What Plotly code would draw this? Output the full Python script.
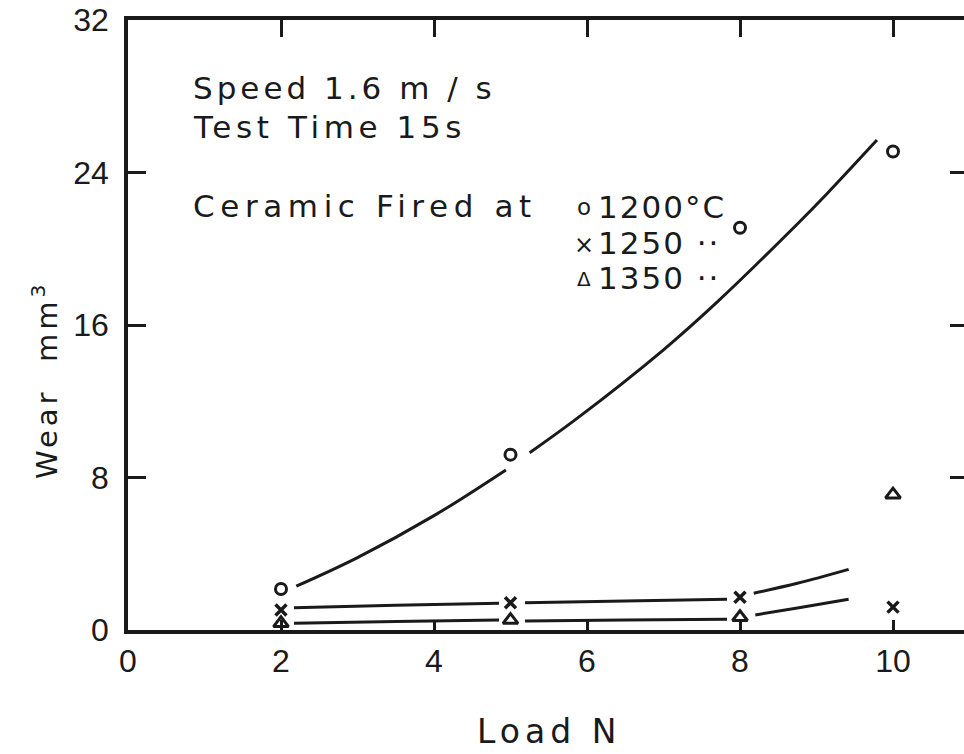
import plotly.graph_objects as go

# ---- data ----
load = [2, 5, 8, 10]
wear_1200 = [2.15, 9.2, 21.1, 25.1]
wear_1250 = [1.05, 1.43, 1.72, 1.2]
wear_1350 = [0.35, 0.52, 0.67, 7.1]

# hand-drawn fitted curves (None = break at a marker)
curve_1200_x = [2.2, 3.0, 4.0, 4.94, None, 5.25, 5.87, 7.0, 7.7, 8.75, 9.14, 9.79]
curve_1200_y = [2.3, 3.8, 6.0, 8.4, None, 9.3, 11.1, 14.7, 17.2, 21.3, 22.9, 25.7]
curve_1250_x = [2.17, 3.5, 4.85, None, 5.19, 6.5, 7.83, None, 8.18, 8.75, 9.42]
curve_1250_y = [1.17, 1.3, 1.4, None, 1.43, 1.52, 1.61, None, 1.93, 2.45, 3.18]
curve_1350_x = [2.17, 3.5, 4.85, None, 5.19, 6.5, 7.83, None, 8.2, 8.75, 9.42]
curve_1350_y = [0.35, 0.44, 0.52, None, 0.47, 0.52, 0.56, None, 0.79, 1.15, 1.61]

x_ticks = [0, 2, 4, 6, 8, 10]
y_ticks = [0, 8, 16, 24, 32]

INK = "#1a1a1a"
FONT = "DejaVu Sans"
TICKFONT = "Liberation Sans"

fig = go.Figure()

for cx, cy in [(curve_1200_x, curve_1200_y), (curve_1250_x, curve_1250_y), (curve_1350_x, curve_1350_y)]:
    fig.add_trace(go.Scatter(x=cx, y=cy, mode="lines", connectgaps=False,
                             line=dict(color=INK, width=3, shape="spline"),
                             hoverinfo="skip", showlegend=False))

fig.add_trace(go.Scatter(x=load, y=wear_1200, mode="markers", name="1200°C",
                         marker=dict(symbol="circle-open", size=11, color=INK, line=dict(width=3, color=INK))))
fig.add_trace(go.Scatter(x=load, y=wear_1250, mode="markers", name="1250",
                         marker=dict(symbol="x-thin", size=11, color=INK, line=dict(width=3.5, color=INK))))
fig.add_trace(go.Scatter(x=load, y=wear_1350, mode="markers", name="1350",
                         marker=dict(symbol="triangle-up-open", size=13, color=INK, line=dict(width=3, color=INK))))

# right-side inside ticks
fig.add_trace(go.Scatter(x=[None], y=[None], yaxis="y2", showlegend=False, hoverinfo="skip"))
# top-side inside ticks
fig.add_trace(go.Scatter(x=[None], y=[None], xaxis="x2", showlegend=False, hoverinfo="skip"))

W, H = 964, 754
L, R, T, B = 128, 0, 20, 124
pw, ph = W - L - R, H - T - B

def px(xpix):
    return (xpix - L) / pw

def py(ypix):
    return (H - B - ypix) / ph

fig.update_layout(
    width=W, height=H,
    margin=dict(l=L, r=R, t=T, b=B),
    paper_bgcolor="white", plot_bgcolor="white",
    showlegend=False,
    font=dict(family=FONT, color=INK),
    xaxis=dict(range=[0, pw / 76.5], tickvals=x_ticks, ticktext=[str(v) for v in x_ticks],
               ticks="inside", ticklen=10, tickwidth=3, tickcolor=INK,
               showline=True, linewidth=3.5, linecolor=INK, mirror=True,
               showgrid=False, zeroline=False,
               tickfont=dict(family=TICKFONT, size=32, color=INK), ticklabelstandoff=0),
    xaxis2=dict(overlaying="x", matches="x", side="top", tickvals=[2, 4, 6, 8, 10],
                ticks="inside", ticklen=17, tickwidth=3, tickcolor=INK,
                showticklabels=False, showline=False, showgrid=False, zeroline=False),
    yaxis=dict(range=[0, 32], tickvals=y_ticks, ticktext=[str(v) for v in y_ticks],
               ticks="inside", ticklen=18, tickwidth=3, tickcolor=INK,
               showline=True, linewidth=3.5, linecolor=INK, mirror=False,
               showgrid=False, zeroline=False,
               tickfont=dict(family=TICKFONT, size=32, color=INK), ticklabelstandoff=9),
    yaxis2=dict(overlaying="y", matches="y", side="right", tickvals=[8, 16, 24],
                ticks="inside", ticklen=14, tickwidth=3, tickcolor=INK,
                showticklabels=False, showline=False, showgrid=False, zeroline=False),
)

# (text, left x px, centre y px, font size, letter spacing px)
ann = [
    ("Speed 1.6 m / s", 191, 88, 31, 4),
    ("Test Time 15s", 191, 127, 31, 4.6),
    ("Ceramic Fired at", 191, 206, 31, 5.6),
    ("1200°C", 596, 207, 31, 2),
    ("1250 ··", 596, 243, 31, 2),
    ("1350 ··", 596, 278, 31, 2),
]
for text, x0, y0, size, ls in ann:
    fig.add_annotation(xref="paper", yref="paper", x=px(x0), y=py(y0),
                       xanchor="left", yanchor="middle", showarrow=False,
                       text=f"<span style='letter-spacing:{ls}px'>{text}</span>",
                       font=dict(family=FONT, size=size, color=INK))

# small legend symbols drawn as text
for sym, y0, size in [("o", 207, 23), ("×", 245, 24), ("Δ", 279, 20)]:
    fig.add_annotation(xref="paper", yref="paper", x=px(584), y=py(y0),
                       xanchor="center", yanchor="middle", showarrow=False,
                       text=sym, font=dict(family=FONT, size=size, color=INK))

fig.add_annotation(xref="paper", yref="paper", x=px(45), y=py(380), textangle=-90,
                   xanchor="center", yanchor="middle", showarrow=False,
                   text="<span style='letter-spacing:4px'>Wear  mm<sup>3</sup></span>",
                   font=dict(family=FONT, size=29, color=INK))
fig.add_annotation(xref="paper", yref="paper", x=px(549), y=py(731),
                   xanchor="center", yanchor="middle", showarrow=False,
                   text="<span style='letter-spacing:5px'>Load N</span>",
                   font=dict(family=FONT, size=33, color=INK))

fig.write_html("out.html",
               config={"displayModeBar": False},
               post_script="document.body.style.margin='0';document.body.style.overflow='hidden';")
